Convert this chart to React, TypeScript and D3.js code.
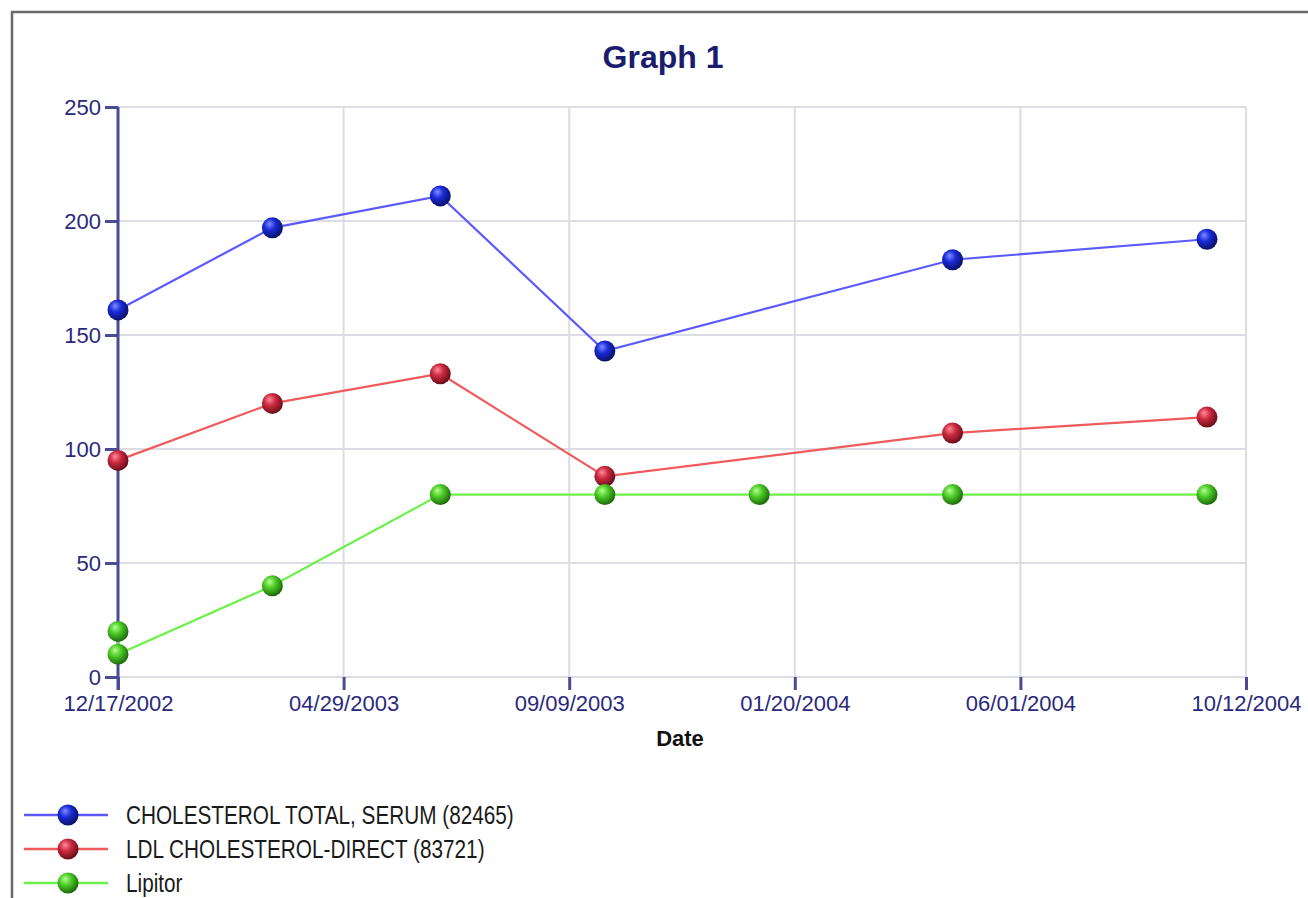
import * as d3 from "d3";
import { useEffect, useRef } from "react";

const WIDTH = 1308;
const HEIGHT = 898;
const PLOT = { left: 118, right: 1246, top: 107, bottom: 677 };

const TITLE = "Graph 1";
const X_LABEL = "Date";

const X_TICKS = [
  "2002-12-17",
  "2003-04-29",
  "2003-09-09",
  "2004-01-20",
  "2004-06-01",
  "2004-10-12",
];
const Y_TICKS = [0, 50, 100, 150, 200, 250];

const CHOL_DATES = [
  "2002-12-17",
  "2003-03-18",
  "2003-06-25",
  "2003-09-30",
  "2004-04-22",
  "2004-09-19",
];
const CHOL_TOTAL = [161, 197, 211, 143, 183, 192];
const LDL_DIRECT = [95, 120, 133, 88, 107, 114];

const LIPITOR_DATES = [
  "2002-12-17",
  "2002-12-17",
  "2003-03-18",
  "2003-06-25",
  "2003-09-30",
  "2003-12-30",
  "2004-04-22",
  "2004-09-19",
];
const LIPITOR = [20, 10, 40, 80, 80, 80, 80, 80];

const SERIES = [
  {
    name: "CHOLESTEROL TOTAL, SERUM (82465)",
    dates: CHOL_DATES,
    values: CHOL_TOTAL,
    line: "#5a5aff",
    hi: "#7f8cff",
    mid: "#1a2ad8",
    dark: "#0a1266",
  },
  {
    name: "LDL CHOLESTEROL-DIRECT (83721)",
    dates: CHOL_DATES,
    values: LDL_DIRECT,
    line: "#f05a5a",
    hi: "#ff8a9a",
    mid: "#cc2a40",
    dark: "#6a0e1a",
  },
  {
    name: "Lipitor",
    dates: LIPITOR_DATES,
    values: LIPITOR,
    line: "#6ef04a",
    hi: "#b4ff90",
    mid: "#4ccc26",
    dark: "#1e6a0c",
  },
];

const FONT = "Liberation Sans, Arial, sans-serif";
const parse = d3.utcParse("%Y-%m-%d");
const fmt = d3.utcFormat("%m/%d/%Y");

export default function App() {
  const svgRef = useRef<SVGSVGElement>(null);

  useEffect(() => {
    if (!svgRef.current) return;
    const svg = d3.select(svgRef.current);
    svg.selectAll("*").remove();

    const tickDates = X_TICKS.map((d) => parse(d)!);
    const x = d3
      .scaleUtc()
      .domain([tickDates[0], tickDates[tickDates.length - 1]])
      .range([PLOT.left, PLOT.right]);
    const y = d3
      .scaleLinear()
      .domain([0, 250])
      .range([PLOT.bottom, PLOT.top]);

    // gradientes de las esferas
    const defs = svg.append("defs");
    SERIES.forEach((s, i) => {
      const g = defs
        .append("radialGradient")
        .attr("id", `ball${i}`)
        .attr("cx", "40%")
        .attr("cy", "38%")
        .attr("r", "62%")
        .attr("fx", "36%")
        .attr("fy", "30%");
      g.append("stop").attr("offset", "0%").attr("stop-color", s.hi);
      g.append("stop").attr("offset", "45%").attr("stop-color", s.mid);
      g.append("stop").attr("offset", "100%").attr("stop-color", s.dark);
    });

    // marco
    svg
      .append("rect")
      .attr("x", 12)
      .attr("y", 12)
      .attr("width", WIDTH)
      .attr("height", HEIGHT)
      .attr("fill", "#fff")
      .attr("stroke", "#6a6a6a")
      .attr("stroke-width", 2.5);

    // titulo
    svg
      .append("text")
      .attr("x", 663)
      .attr("y", 68)
      .attr("text-anchor", "middle")
      .attr("font-family", FONT)
      .attr("font-size", 32)
      .attr("font-weight", "bold")
      .attr("fill", "#1c1c6e")
      .text(TITLE);

    // rejilla
    const grid = svg.append("g").attr("stroke", "#dcdce4").attr("stroke-width", 2);
    grid
      .selectAll("line.h")
      .data(Y_TICKS)
      .enter()
      .append("line")
      .attr("x1", PLOT.left)
      .attr("x2", PLOT.right)
      .attr("y1", (d) => y(d))
      .attr("y2", (d) => y(d));
    grid
      .selectAll("line.v")
      .data(tickDates.slice(1))
      .enter()
      .append("line")
      .attr("x1", (d) => x(d))
      .attr("x2", (d) => x(d))
      .attr("y1", PLOT.top)
      .attr("y2", PLOT.bottom);

    const axisColor = "#4a4a96";
    const labelColor = "#2a2a7c";

    // eje Y
    const yAxis = svg
      .append("g")
      .attr("transform", `translate(${PLOT.left},0)`)
      .call(
        d3
          .axisLeft(y)
          .tickValues(Y_TICKS)
          .tickSize(13)
          .tickSizeOuter(0)
          .tickPadding(4)
      );
    yAxis
      .select(".domain")
      .attr("stroke", axisColor)
      .attr("stroke-width", 3)
      .attr("d", `M0,${PLOT.top}V${PLOT.bottom + 13}`);
    yAxis.selectAll(".tick line").attr("stroke", axisColor).attr("stroke-width", 3);
    yAxis
      .selectAll(".tick text")
      .attr("fill", labelColor)
      .attr("font-size", 22)
      .attr("font-family", FONT);

    // eje X
    const xAxis = svg
      .append("g")
      .attr("transform", `translate(0,${PLOT.bottom})`)
      .call(
        d3
          .axisBottom(x)
          .tickValues(tickDates)
          .tickFormat((d) => fmt(d as Date))
          .tickSize(13)
          .tickSizeOuter(0)
          .tickPadding(5)
      );
    xAxis.select(".domain").remove();
    xAxis.selectAll(".tick line").attr("stroke", axisColor).attr("stroke-width", 3);
    xAxis
      .selectAll(".tick text")
      .attr("fill", labelColor)
      .attr("font-size", 22)
      .attr("font-family", FONT);

    svg
      .append("text")
      .attr("x", 680)
      .attr("y", 746)
      .attr("text-anchor", "middle")
      .attr("font-family", FONT)
      .attr("font-size", 22)
      .attr("font-weight", "bold")
      .attr("fill", "#111")
      .text(X_LABEL);

    // series
    SERIES.forEach((s, i) => {
      const pts = s.values.map((v, k) => ({ date: parse(s.dates[k])!, value: v }));
      const line = d3
        .line<{ date: Date; value: number }>()
        .x((d) => x(d.date))
        .y((d) => y(d.value));
      svg
        .append("path")
        .datum(pts)
        .attr("d", line)
        .attr("fill", "none")
        .attr("stroke", s.line)
        .attr("stroke-width", 2.2);
      svg
        .append("g")
        .selectAll("circle")
        .data(pts)
        .enter()
        .append("circle")
        .attr("cx", (d) => x(d.date))
        .attr("cy", (d) => y(d.value))
        .attr("r", 10.5)
        .attr("fill", `url(#ball${i})`);
    });

    // leyenda
    const legend = svg.append("g");
    SERIES.forEach((s, i) => {
      const cy = 815 + i * 34;
      legend
        .append("line")
        .attr("x1", 24)
        .attr("x2", 108)
        .attr("y1", cy)
        .attr("y2", cy)
        .attr("stroke", s.line)
        .attr("stroke-width", 2.5);
      legend
        .append("circle")
        .attr("cx", 68)
        .attr("cy", cy)
        .attr("r", 10.5)
        .attr("fill", `url(#ball${i})`);
      legend
        .append("g")
        .attr("transform", `translate(126,${cy + 9}) scale(0.83,1)`)
        .append("text")
        .attr("font-family", FONT)
        .attr("font-size", 25)
        .attr("fill", "#1a1a1a")
        .text(s.name);
    });
  }, []);

  return (
    <svg
      ref={svgRef}
      width={WIDTH}
      height={HEIGHT}
      style={{ position: "absolute", left: 0, top: 0, background: "#fff" }}
    ></svg>
  );
}
